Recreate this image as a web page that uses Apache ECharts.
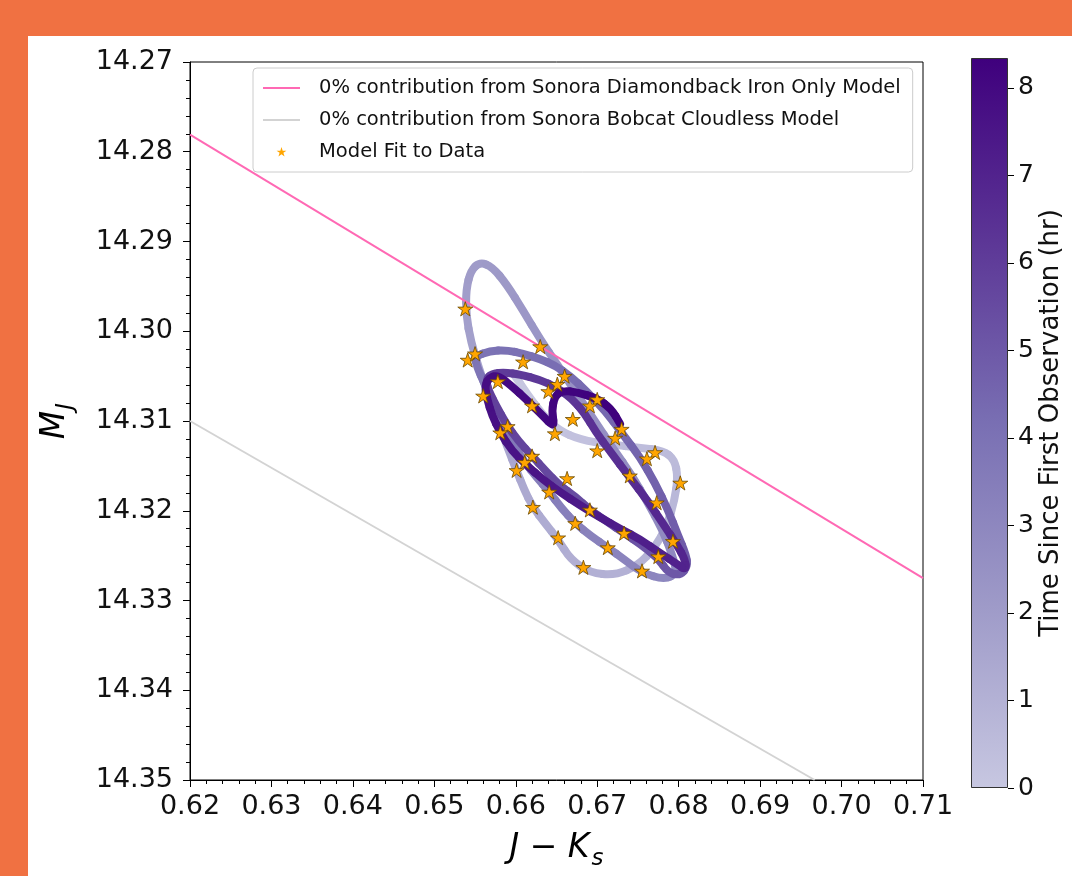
<!DOCTYPE html>
<html>
<head>
<meta charset="utf-8">
<script src="https://cdn.jsdelivr.net/npm/echarts@6/dist/echarts.min.js"></script>
<style>
html,body{margin:0;padding:0;background:#F07142;width:1072px;height:876px;overflow:hidden;}
#panel{position:absolute;left:28px;top:36px;width:1044px;height:840px;background:#ffffff;}
#chart{position:absolute;left:0;top:0;width:1072px;height:876px;}
</style>
</head>
<body>
<div id="panel"></div>
<div id="chart"></div>
<script>
// ---- data ----
// model track (J-Ks, M_J, time since first observation in hr)
const trackJK = [
0.6597,0.6614,0.6632,0.6652,0.6679,0.6716,0.6753,0.6781,0.6795,0.6799,0.6795,0.6786,0.6771,0.6750,0.6722,0.6691,0.6667,0.6652,0.6636,0.6621,0.6610,0.6601,0.6590,0.6578,0.6566,0.6555,0.6545,0.6539,0.6539,0.6545,0.6556,
0.6571,0.6589,0.6609,0.6630,0.6651,0.6673,0.6697,0.6719,0.6743,0.6762,0.6780,0.6792,0.6798,0.6783,0.6755,0.6734,0.6713,0.6692,0.6673,0.6656,0.6641,0.6626,0.6611,0.6598,0.6586,0.6573,0.6562,0.6552,0.6550,0.6568,
0.6589,0.6609,0.6630,0.6648,0.6667,0.6687,0.6710,0.6730,0.6753,0.6771,0.6787,0.6799,0.6809,0.6811,0.6802,0.6787,0.6775,0.6754,0.6733,0.6712,0.6691,0.6673,0.6654,0.6636,0.6620,0.6603,0.6588,0.6576,0.6567,0.6563,
0.6571,0.6587,0.6605,0.6630,0.6651,0.6669,0.6685,0.6698,0.6716,0.6740,0.6762,0.6782,0.6798,0.6808,0.6809,0.6799,0.6777,0.6753,0.6728,0.6703,0.6679,0.6654,0.6633,0.6614,0.6595,0.6581,0.6571,0.6565,0.6562,0.6567,0.6578,
0.6595,0.6614,0.6632,0.6648,0.6644,0.6648,0.6658,0.6676,0.6700,0.6717,0.6728
];
const trackMJ = [
14.3047,14.3070,14.3092,14.3110,14.3121,14.3126,14.3130,14.3133,14.3143,14.3163,14.3188,14.3216,14.3241,14.3261,14.3272,14.3269,14.3254,14.3232,14.3214,14.3196,14.3176,14.3155,14.3130,14.3100,14.3070,14.3042,14.3012,14.2982,14.2953,14.2932,14.2923,
14.2928,14.2948,14.2977,14.3009,14.3037,14.3067,14.3100,14.3130,14.3161,14.3191,14.3221,14.3249,14.3269,14.3277,14.3269,14.3255,14.3241,14.3228,14.3214,14.3197,14.3179,14.3163,14.3146,14.3128,14.3108,14.3083,14.3059,14.3039,14.3028,14.3022,
14.3021,14.3025,14.3031,14.3038,14.3050,14.3067,14.3089,14.3113,14.3141,14.3169,14.3199,14.3227,14.3249,14.3262,14.3272,14.3269,14.3253,14.3238,14.3225,14.3212,14.3199,14.3184,14.3172,14.3155,14.3139,14.3122,14.3103,14.3083,14.3067,14.3054,
14.3047,14.3046,14.3048,14.3054,14.3063,14.3075,14.3092,14.3112,14.3134,14.3163,14.3189,14.3216,14.3238,14.3255,14.3266,14.3260,14.3247,14.3232,14.3220,14.3207,14.3194,14.3179,14.3165,14.3150,14.3133,14.3113,14.3094,14.3076,14.3061,14.3052,14.3049,
14.3061,14.3077,14.3093,14.3108,14.3089,14.3072,14.3066,14.3068,14.3075,14.3086,14.3103
];
const trackHr = [
0.00,0.06,0.13,0.20,0.27,0.36,0.45,0.52,0.57,0.62,0.69,0.77,0.85,0.92,1.00,1.07,1.14,1.20,1.26,1.32,1.38,1.44,1.51,1.59,1.67,1.74,1.81,1.87,1.93,1.98,2.02,
2.07,2.14,2.21,2.29,2.37,2.45,2.53,2.61,2.69,2.77,2.85,2.92,2.97,3.02,3.09,3.15,3.21,3.27,3.33,3.39,3.45,3.51,3.57,3.63,3.69,3.76,3.83,3.89,3.93,3.98,
4.03,4.08,4.14,4.19,4.25,4.32,4.40,4.48,4.57,4.66,4.75,4.83,4.90,4.95,5.00,5.05,5.11,5.18,5.25,5.32,5.39,5.46,5.52,5.59,5.66,5.73,5.80,5.87,5.93,5.98,
6.02,6.06,6.11,6.17,6.23,6.29,6.36,6.43,6.51,6.61,6.70,6.79,6.87,6.93,6.98,7.02,7.09,7.16,7.23,7.30,7.37,7.44,7.50,7.56,7.62,7.68,7.73,7.78,7.82,7.86,7.89,
7.94,7.99,8.04,8.09,8.13,8.17,8.20,8.24,8.28,8.31,8.34
];
// model fit to data (stars)
const starJK = [0.6538,0.6541,0.6550,0.6630,0.6609,0.6560,0.6578,0.6620,0.6640,0.6651,0.6660,0.6700,0.6691,0.6670,0.6648,0.6730,0.6722,0.6700,0.6771,0.6761,
0.6802,0.6740,0.6590,0.6581,0.6620,0.6611,0.6601,0.6663,0.6641,0.6691,0.6773,0.6621,0.6673,0.6733,0.6793,0.6652,0.6713,0.6775,0.6683,0.6755];
const starMJ = [14.2975,14.3032,14.3025,14.3017,14.3034,14.3072,14.3056,14.3083,14.3067,14.3059,14.3050,14.3076,14.3083,14.3098,14.3114,14.3109,14.3119,14.3133,14.3135,14.3142,
14.3169,14.3161,14.3106,14.3113,14.3139,14.3146,14.3155,14.3164,14.3179,14.3199,14.3191,14.3196,14.3214,14.3225,14.3234,14.3230,14.3241,14.3251,14.3263,14.3267];
// 0% contribution lines
const diamondJK = [0.62, 0.71];
const diamondMJ = [14.2781, 14.3275];
const bobcatJK = [0.62, 0.6967];
const bobcatMJ = [14.31, 14.35];
// axes
const xTicks = [0.62,0.63,0.64,0.65,0.66,0.67,0.68,0.69,0.70,0.71];
const yTicks = [14.27,14.28,14.29,14.30,14.31,14.32,14.33,14.34,14.35];
const cbTicks = [0,1,2,3,4,5,6,7,8];
const cbMax = 8.34;
const legendNames = ['0% contribution from Sonora Diamondback Iron Only Model',
                     '0% contribution from Sonora Bobcat Cloudless Model',
                     'Model Fit to Data'];
const cmap = ['#c7c7e1','#9e9ac8','#796fb3','#5c3696','#3f007d'];

// ---- chart ----
const FONT = 'DejaVu Sans';
const starPath = 'path://M50,0 L61.2,34.5 L97.6,34.5 L68.2,55.9 L79.4,90.5 L50,69.1 L20.6,90.5 L31.8,55.9 L2.4,34.5 L38.8,34.5 Z';
const starLegendPath = 'path://M-22,-20 Z M122,115 Z M50,0 L61.2,34.5 L97.6,34.5 L68.2,55.9 L79.4,90.5 L50,69.1 L20.6,90.5 L31.8,55.9 L2.4,34.5 L38.8,34.5 Z';
const lineLegendPath = 'path://M0,0 L100,0 L100,5.5 L0,5.5 Z';
const trackData = trackJK.map((x, i) => [x, trackMJ[i], trackHr[i]]);
const starData = starJK.map((x, i) => [x, starMJ[i]]);
const chart = echarts.init(document.getElementById('chart'), null, {renderer: 'canvas'});

const cbStops = cmap.map((c, i) => ({offset: i / (cmap.length - 1), color: c}));
const nTrack = trackData.length;

chart.setOption({
  backgroundColor: 'transparent',
  animation: false,
  textStyle: {fontFamily: FONT},
  grid: [
    {left: 190, top: 62, width: 733, height: 726, show: true, borderColor: '#000', borderWidth: 1, backgroundColor: 'transparent'},
    {left: 971, top: 58, width: 37, height: 730, show: false}
  ],
  xAxis: [
    {
      gridIndex: 0, type: 'value', min: xTicks[0], max: xTicks[xTicks.length - 1], interval: 0.01,
      name: '{i|J − K}{s|s}', nameLocation: 'middle', nameGap: 46,
      nameTextStyle: {
        rich: {
          i: {fontFamily: FONT, fontStyle: 'italic', fontSize: 33, color: '#000'},
          s: {fontFamily: FONT, fontStyle: 'italic', fontSize: 23, color: '#000', padding: [22, 0, 0, 2]}
        }
      },
      axisLine: {show: true, onZero: false, lineStyle: {color: '#000', width: 1}},
      axisTick: {show: true, inside: false, length: 7, lineStyle: {color: '#000'}},
      minorTick: {show: true, splitNumber: 5, length: 4, lineStyle: {color: '#000'}},
      splitLine: {show: false},
      axisLabel: {fontSize: 27, color: '#111', fontFamily: FONT, margin: 13, formatter: v => v.toFixed(2)}
    },
    {gridIndex: 1, type: 'category', data: [''], show: false}
  ],
  yAxis: [
    {
      gridIndex: 0, type: 'value', inverse: true, min: yTicks[0], max: yTicks[yTicks.length - 1], interval: 0.01,
      name: '{i|M}{s|J}', nameLocation: 'middle', nameGap: 112, nameRotate: 90,
      nameTextStyle: {
        rich: {
          i: {fontFamily: FONT, fontStyle: 'italic', fontSize: 33, color: '#000'},
          s: {fontFamily: FONT, fontStyle: 'italic', fontSize: 23, color: '#000', padding: [22, 0, 0, 1]}
        }
      },
      axisLine: {show: true, onZero: false, lineStyle: {color: '#000', width: 1}},
      axisTick: {show: true, inside: false, length: 7, lineStyle: {color: '#000'}},
      minorTick: {show: true, splitNumber: 5, length: 4, lineStyle: {color: '#000'}},
      splitLine: {show: false},
      axisLabel: {fontSize: 27, color: '#111', fontFamily: FONT, margin: 17, formatter: v => v.toFixed(2)}
    },
    {
      gridIndex: 1, type: 'value', min: 0, max: cbMax, interval: 1, position: 'right',
      name: 'Time Since First Observation (hr)', nameLocation: 'middle', nameGap: 30, nameRotate: 90,
      nameTextStyle: {fontSize: 26, color: '#111', fontFamily: FONT},
      axisLine: {show: false},
      axisTick: {show: true, inside: false, length: 6, lineStyle: {color: '#000'}, customValues: cbTicks},
      splitLine: {show: false},
      axisLabel: {fontSize: 25, color: '#111', fontFamily: FONT, margin: 10, customValues: cbTicks,
                  formatter: v => (Math.abs(v - Math.round(v)) < 1e-6 ? String(Math.round(v)) : '')}
    }
  ],
  visualMap: {
    type: 'continuous', show: false, seriesIndex: 0, dimension: 2, min: 0, max: cbMax,
    inRange: {color: cmap}
  },
  legend: {
    orient: 'vertical', left: 253, top: 68,
    padding: [10, 12, 10, 10], itemGap: 12, itemWidth: 37, itemHeight: 14,
    backgroundColor: '#fff', borderColor: '#cccccc', borderWidth: 1, borderRadius: 4,
    textStyle: {fontSize: 19.5, color: '#111', fontFamily: FONT, padding: [0, 0, 0, 14]},
    data: [
      {name: legendNames[0], icon: lineLegendPath, itemStyle: {borderWidth: 0}},
      {name: legendNames[1], icon: lineLegendPath, itemStyle: {borderWidth: 0}},
      {name: legendNames[2], icon: starLegendPath, itemStyle: {borderWidth: 0}}
    ],
    selectedMode: false
  },
  series: [
    {
      type: 'custom', name: 'track', xAxisIndex: 0, yAxisIndex: 0, clip: true, z: 2,
      data: trackData,
      encode: {x: 0, y: 1},
      renderItem: function (params, api) {
        // smooth rendering: quadratic pieces between midpoints, control at the read point
        const i = params.dataIndex;
        const p = api.coord([trackData[i][0], trackData[i][1]]);
        const prev = i > 0 ? api.coord([trackData[i - 1][0], trackData[i - 1][1]]) : p;
        const next = i < nTrack - 1 ? api.coord([trackData[i + 1][0], trackData[i + 1][1]]) : p;
        const s = [(prev[0] + p[0]) / 2, (prev[1] + p[1]) / 2];
        const e = [(next[0] + p[0]) / 2, (next[1] + p[1]) / 2];
        return {
          type: 'bezierCurve',
          shape: {x1: s[0], y1: s[1], x2: e[0], y2: e[1], cpx1: p[0], cpy1: p[1]},
          style: {stroke: api.visual('color'), lineWidth: 8, lineCap: 'round', fill: null}
        };
      }
    },
    {
      type: 'line', name: legendNames[0], xAxisIndex: 0, yAxisIndex: 0, z: 3,
      data: diamondJK.map((x, i) => [x, diamondMJ[i]]),
      symbol: 'none', showSymbol: false, clip: true,
      lineStyle: {color: '#ff69b4', width: 2}, itemStyle: {color: '#ff69b4'}
    },
    {
      type: 'line', name: legendNames[1], xAxisIndex: 0, yAxisIndex: 0, z: 3,
      data: bobcatJK.map((x, i) => [x, bobcatMJ[i]]),
      symbol: 'none', showSymbol: false, clip: true,
      lineStyle: {color: '#d3d3d3', width: 2}, itemStyle: {color: '#d3d3d3'}
    },
    {
      type: 'scatter', name: legendNames[2], xAxisIndex: 0, yAxisIndex: 0, z: 5,
      data: starData, symbol: starPath, symbolSize: 15, symbolKeepAspect: true,
      itemStyle: {color: '#ffa500', borderColor: '#6b4a00', borderWidth: 0.8, opacity: 1}
    },
    {
      type: 'bar', name: 'colorbar', xAxisIndex: 1, yAxisIndex: 1, silent: true,
      data: [cbMax], barWidth: '100%',
      itemStyle: {
        color: new echarts.graphic.LinearGradient(0, 1, 0, 0, cbStops),
        borderColor: '#333', borderWidth: 1
      }
    }
  ]
});
</script>
</body>
</html>
